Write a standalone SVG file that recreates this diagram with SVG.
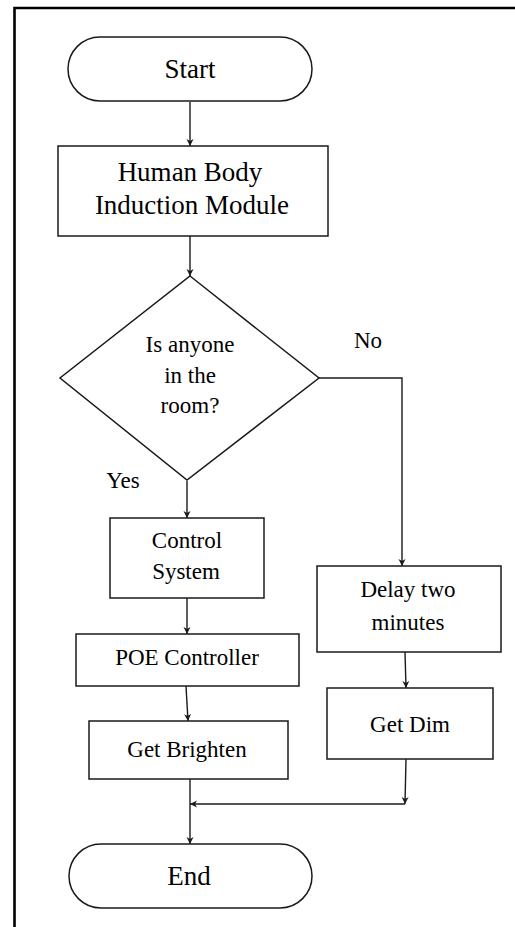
<svg xmlns="http://www.w3.org/2000/svg" width="515" height="927" viewBox="0 0 515 927">
<style>
.box{fill:#fff;stroke:#1a1a1a;stroke-width:1.5}
text{font-family:'Liberation Serif','Times New Roman','DejaVu Serif',serif;font-size:23px;fill:#000;text-anchor:middle}
text.tl{font-size:27px}
.c{fill:none;stroke:#1a1a1a;stroke-width:1.4}
.frame{fill:none;stroke:#000;stroke-width:2.6}
</style>
<defs>
<marker id="ah" markerWidth="9" markerHeight="9" refX="7" refY="4.5" orient="auto" markerUnits="userSpaceOnUse">
<path d="M0,1 L7,4.5 L0,8 L2,4.5 Z" fill="#1a1a1a"/>
</marker>
</defs>
<rect width="515" height="927" fill="#fff"/>
<path class="frame" d="M14.5,927 V8 H515"/>
<g id="connectors">
<path class="c" d="M190,102 V146" marker-end="url(#ah)"/>
<path class="c" d="M190,236 V276" marker-end="url(#ah)"/>
<path class="c" d="M319,378 H402 V566" marker-end="url(#ah)"/>
<path class="c" d="M187,481 V518" marker-end="url(#ah)"/>
<path class="c" d="M187,598 V634" marker-end="url(#ah)"/>
<path class="c" d="M186,686 L188,721" marker-end="url(#ah)"/>
<path class="c" d="M405,652 L406,688" marker-end="url(#ah)"/>
<path class="c" d="M406,759 L405,804" marker-end="url(#ah)"/>
<path class="c" d="M405,804 H190" marker-end="url(#ah)"/>
<path class="c" d="M190,779 V844" marker-end="url(#ah)"/>
</g>
<g id="start">
<rect class="box" x="68" y="37" width="244" height="64" rx="32" ry="32"/>
<text class="tl" x="190" y="78" font-family="Liberation Serif, serif">Start</text>
</g>
<g id="hbim">
<rect class="box" x="58" y="146" width="270" height="90"/>
<text class="tl" x="190" y="181">Human Body</text>
<text class="tl" x="192" y="214">Induction Module</text>
</g>
<g id="decision">
<polygon class="box" points="190,276 319,378 187,480 60,378"/>
<text x="190" y="352">Is anyone</text>
<text x="190" y="383">in the</text>
<text x="190" y="413">room?</text>
</g>
<g id="label-no"><text x="368" y="348">No</text></g>
<g id="label-yes"><text x="123" y="488">Yes</text></g>
<g id="control">
<rect class="box" x="110" y="518" width="154" height="80"/>
<text x="187" y="548">Control</text>
<text x="186" y="579">System</text>
</g>
<g id="delay">
<rect class="box" x="317" y="566" width="184" height="86"/>
<text x="408" y="597">Delay two</text>
<text x="408" y="630">minutes</text>
</g>
<g id="poe">
<rect class="box" x="76" y="634" width="223" height="52"/>
<text x="187" y="665">POE Controller</text>
</g>
<g id="brighten">
<rect class="box" x="89" y="721" width="199" height="58"/>
<text x="187" y="757">Get Brighten</text>
</g>
<g id="dim">
<rect class="box" x="327" y="688" width="166" height="71"/>
<text x="410" y="732">Get Dim</text>
</g>
<g id="end">
<rect class="box" x="69" y="844" width="243" height="64" rx="32" ry="32"/>
<text class="tl" x="189" y="885">End</text>
</g>
</svg>
